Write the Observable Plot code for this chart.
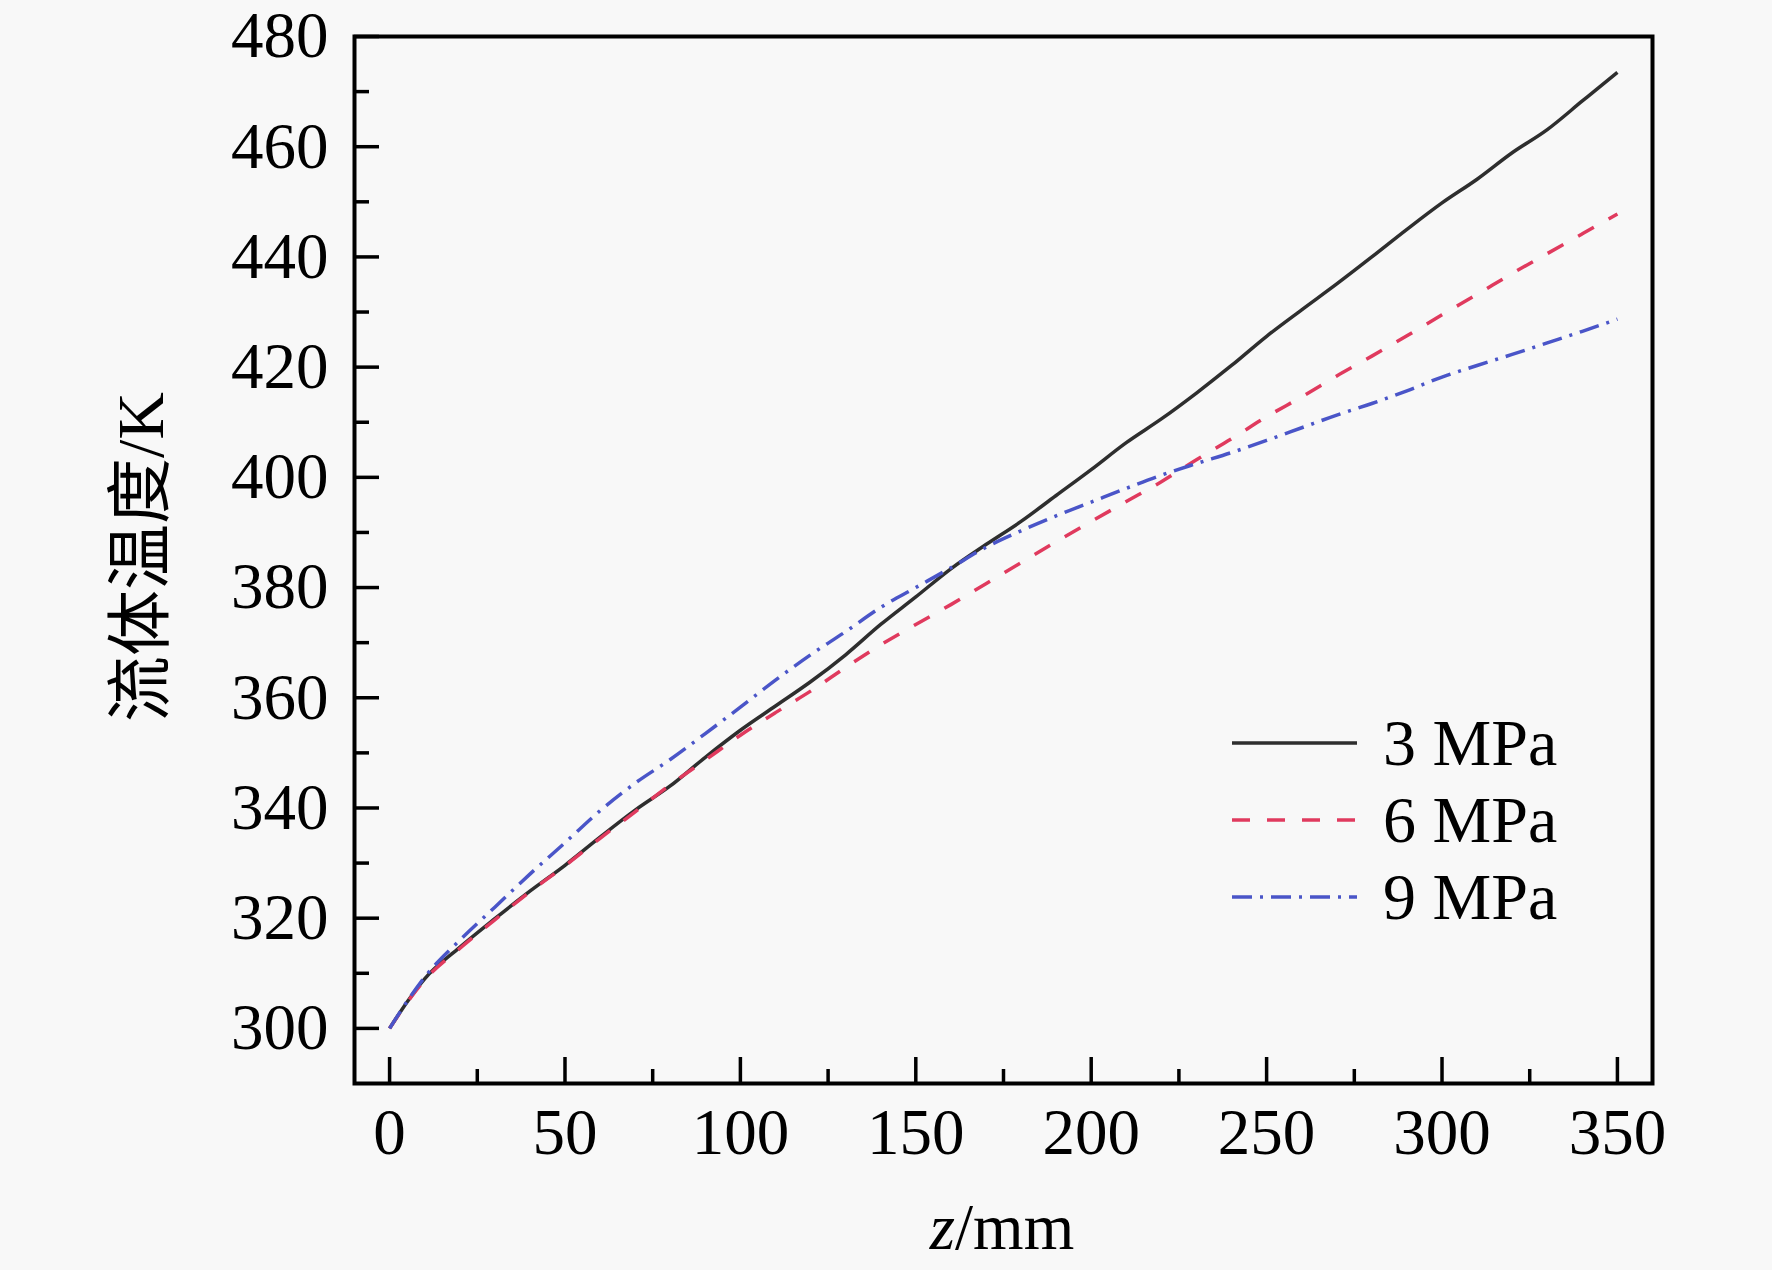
<!DOCTYPE html>
<html>
<head>
<meta charset="utf-8">
<script src="https://cdn.jsdelivr.net/npm/d3@7"></script>
<script src="https://cdn.jsdelivr.net/npm/@observablehq/plot@0.6"></script>
<style>
  html, body { margin: 0; padding: 0; background: #f8f8f8; }
  #chart { width: 1772px; height: 1270px; }
</style>
</head>
<body>
<div id="chart"></div>
<script>
// ---- data ----
const zValues = [0, 5, 10, 20, 30, 40, 50, 60, 70, 80, 90, 100, 110, 120, 130, 140, 150, 160, 170, 180,
                 190, 200, 210, 220, 230, 240, 250, 260, 270, 280, 290, 300, 310, 320, 330, 340, 350];
const temp3MPa = [300, 304.8, 309.0, 314.7, 319.9, 324.9, 329.6, 334.7, 339.6, 344.0, 349.2, 354.1, 358.5, 362.9, 367.8, 373.3,
                  378.3, 383.4, 387.8, 392.0, 396.7, 401.4, 406.3, 410.6, 415.3, 420.3, 425.6, 430.4, 435.1, 440.0,
                  445.0, 449.8, 454.1, 458.9, 463.1, 468.3, 473.5];
const temp6MPa = [300, 304.7, 308.8, 314.5, 319.7, 324.8, 329.5, 334.5, 339.3, 344.2, 348.7, 353.2, 357.3, 361.2, 365.5, 369.6,
                  373.3, 376.9, 380.7, 384.5, 388.3, 392.0, 395.6, 399.2, 403.2, 407.0, 411.0, 414.6, 418.4, 422.0,
                  425.7, 429.5, 433.2, 437.0, 440.6, 444.2, 447.8];
const temp9MPa = [300, 304.9, 309.3, 316.0, 322.0, 328.0, 333.7, 339.5, 344.5, 348.8, 353.5, 358.3, 363.2, 367.8, 372.0, 376.4,
                  380.0, 383.6, 387.3, 390.3, 393.0, 395.5, 398.0, 400.4, 402.5, 404.5, 406.7, 409.0, 411.3, 413.4,
                  415.7, 418.2, 420.3, 422.3, 424.4, 426.5, 428.7];
const seriesNames = ["3 MPa", "6 MPa", "9 MPa"];
const seriesColors = ["#2e2e2e", "#e03a5e", "#4a55c8"];
const seriesDash = [null, "18,17", "20,8,3,8"];
const xTicks = [0, 50, 100, 150, 200, 250, 300, 350];
const xMinorTicks = [25, 75, 125, 175, 225, 275, 325];
const yTicks = [300, 320, 340, 360, 380, 400, 420, 440, 460, 480];
const yMinorTicks = [310, 330, 350, 370, 390, 410, 430, 450, 470];
const xLabelItalic = "z";
const xLabelRest = "/mm";
const yLabel = "流体温度/K";

// ---- layout ----
const W = 1772, H = 1270;
const mL = 354, mR = 120, mT = 36, mB = 187;
const frameW = W - mL - mR, frameH = H - mT - mB;
const serif = '"Liberation Serif", "Times New Roman", "Noto Sans CJK SC", serif';

const seriesTemps = [temp3MPa, temp6MPa, temp9MPa];
const lineMarks = seriesNames.map((name, s) => {
  const rows = zValues.map((z, i) => ({z, T: seriesTemps[s][i], series: name}));
  return Plot.line(rows, {
    x: "z", y: "T", curve: "monotone-x",
    stroke: seriesColors[s], strokeWidth: 3.5,
    strokeDasharray: seriesDash[s] || undefined,
    strokeLinecap: "butt", strokeLinejoin: "round"
  });
});

const chart = Plot.plot({
  width: W, height: H,
  marginLeft: mL, marginRight: mR, marginTop: mT, marginBottom: mB,
  style: {background: "#f8f8f8", fontFamily: serif, fontSize: "65px", color: "#000"},
  x: {domain: [-10, 360]},
  y: {domain: [290, 480]},
  marks: [
    ...lineMarks,
    Plot.tickX(xTicks, {x: d => d, insetTop: frameH - 26, stroke: "#000", strokeWidth: 3.5}),
    Plot.tickX(xMinorTicks, {x: d => d, insetTop: frameH - 14, stroke: "#000", strokeWidth: 3.5}),
    Plot.tickY(yTicks, {y: d => d, insetRight: frameW - 25, stroke: "#000", strokeWidth: 3.5}),
    Plot.tickY(yMinorTicks, {y: d => d, insetRight: frameW - 15, stroke: "#000", strokeWidth: 3.5}),
    Plot.axisX(xTicks, {tickSize: 0, tickPadding: 24, label: null, fontSize: 65, fill: "#000"}),
    Plot.axisY(yTicks, {tickSize: 0, tickPadding: 26, label: null, fontSize: 65, fill: "#000"}),
    Plot.frame({stroke: "#000", strokeWidth: 4})
  ]
});

document.getElementById("chart").appendChild(chart);

// ---- axis titles & legend (real text) ----
const svg = d3.select(chart);
svg.append("text")
  .attr("transform", "translate(140,557) rotate(-90)")
  .attr("text-anchor", "middle")
  .attr("dominant-baseline", "central")
  .attr("font-family", serif)
  .attr("font-size", 66)
  .attr("fill", "#000")
  .text(yLabel);

const xl = svg.append("text")
  .attr("x", 1002).attr("y", 1249)
  .attr("text-anchor", "middle")
  .attr("font-family", serif)
  .attr("font-size", 65)
  .attr("fill", "#000");
xl.append("tspan").attr("font-style", "italic").text(xLabelItalic);
xl.append("tspan").text(xLabelRest);

const legend = svg.append("g");
seriesNames.forEach((name, i) => {
  const y = 743 + i * 77;
  legend.append("line")
    .attr("x1", 1232).attr("x2", 1357).attr("y1", y).attr("y2", y)
    .attr("stroke", seriesColors[i]).attr("stroke-width", 3.5)
    .attr("stroke-dasharray", seriesDash[i]);
  legend.append("text")
    .attr("x", 1383).attr("y", y + 22)
    .attr("text-anchor", "start")
    .attr("font-family", serif).attr("font-size", 66).attr("fill", "#000")
    .text(name);
});
</script>
</body>
</html>
